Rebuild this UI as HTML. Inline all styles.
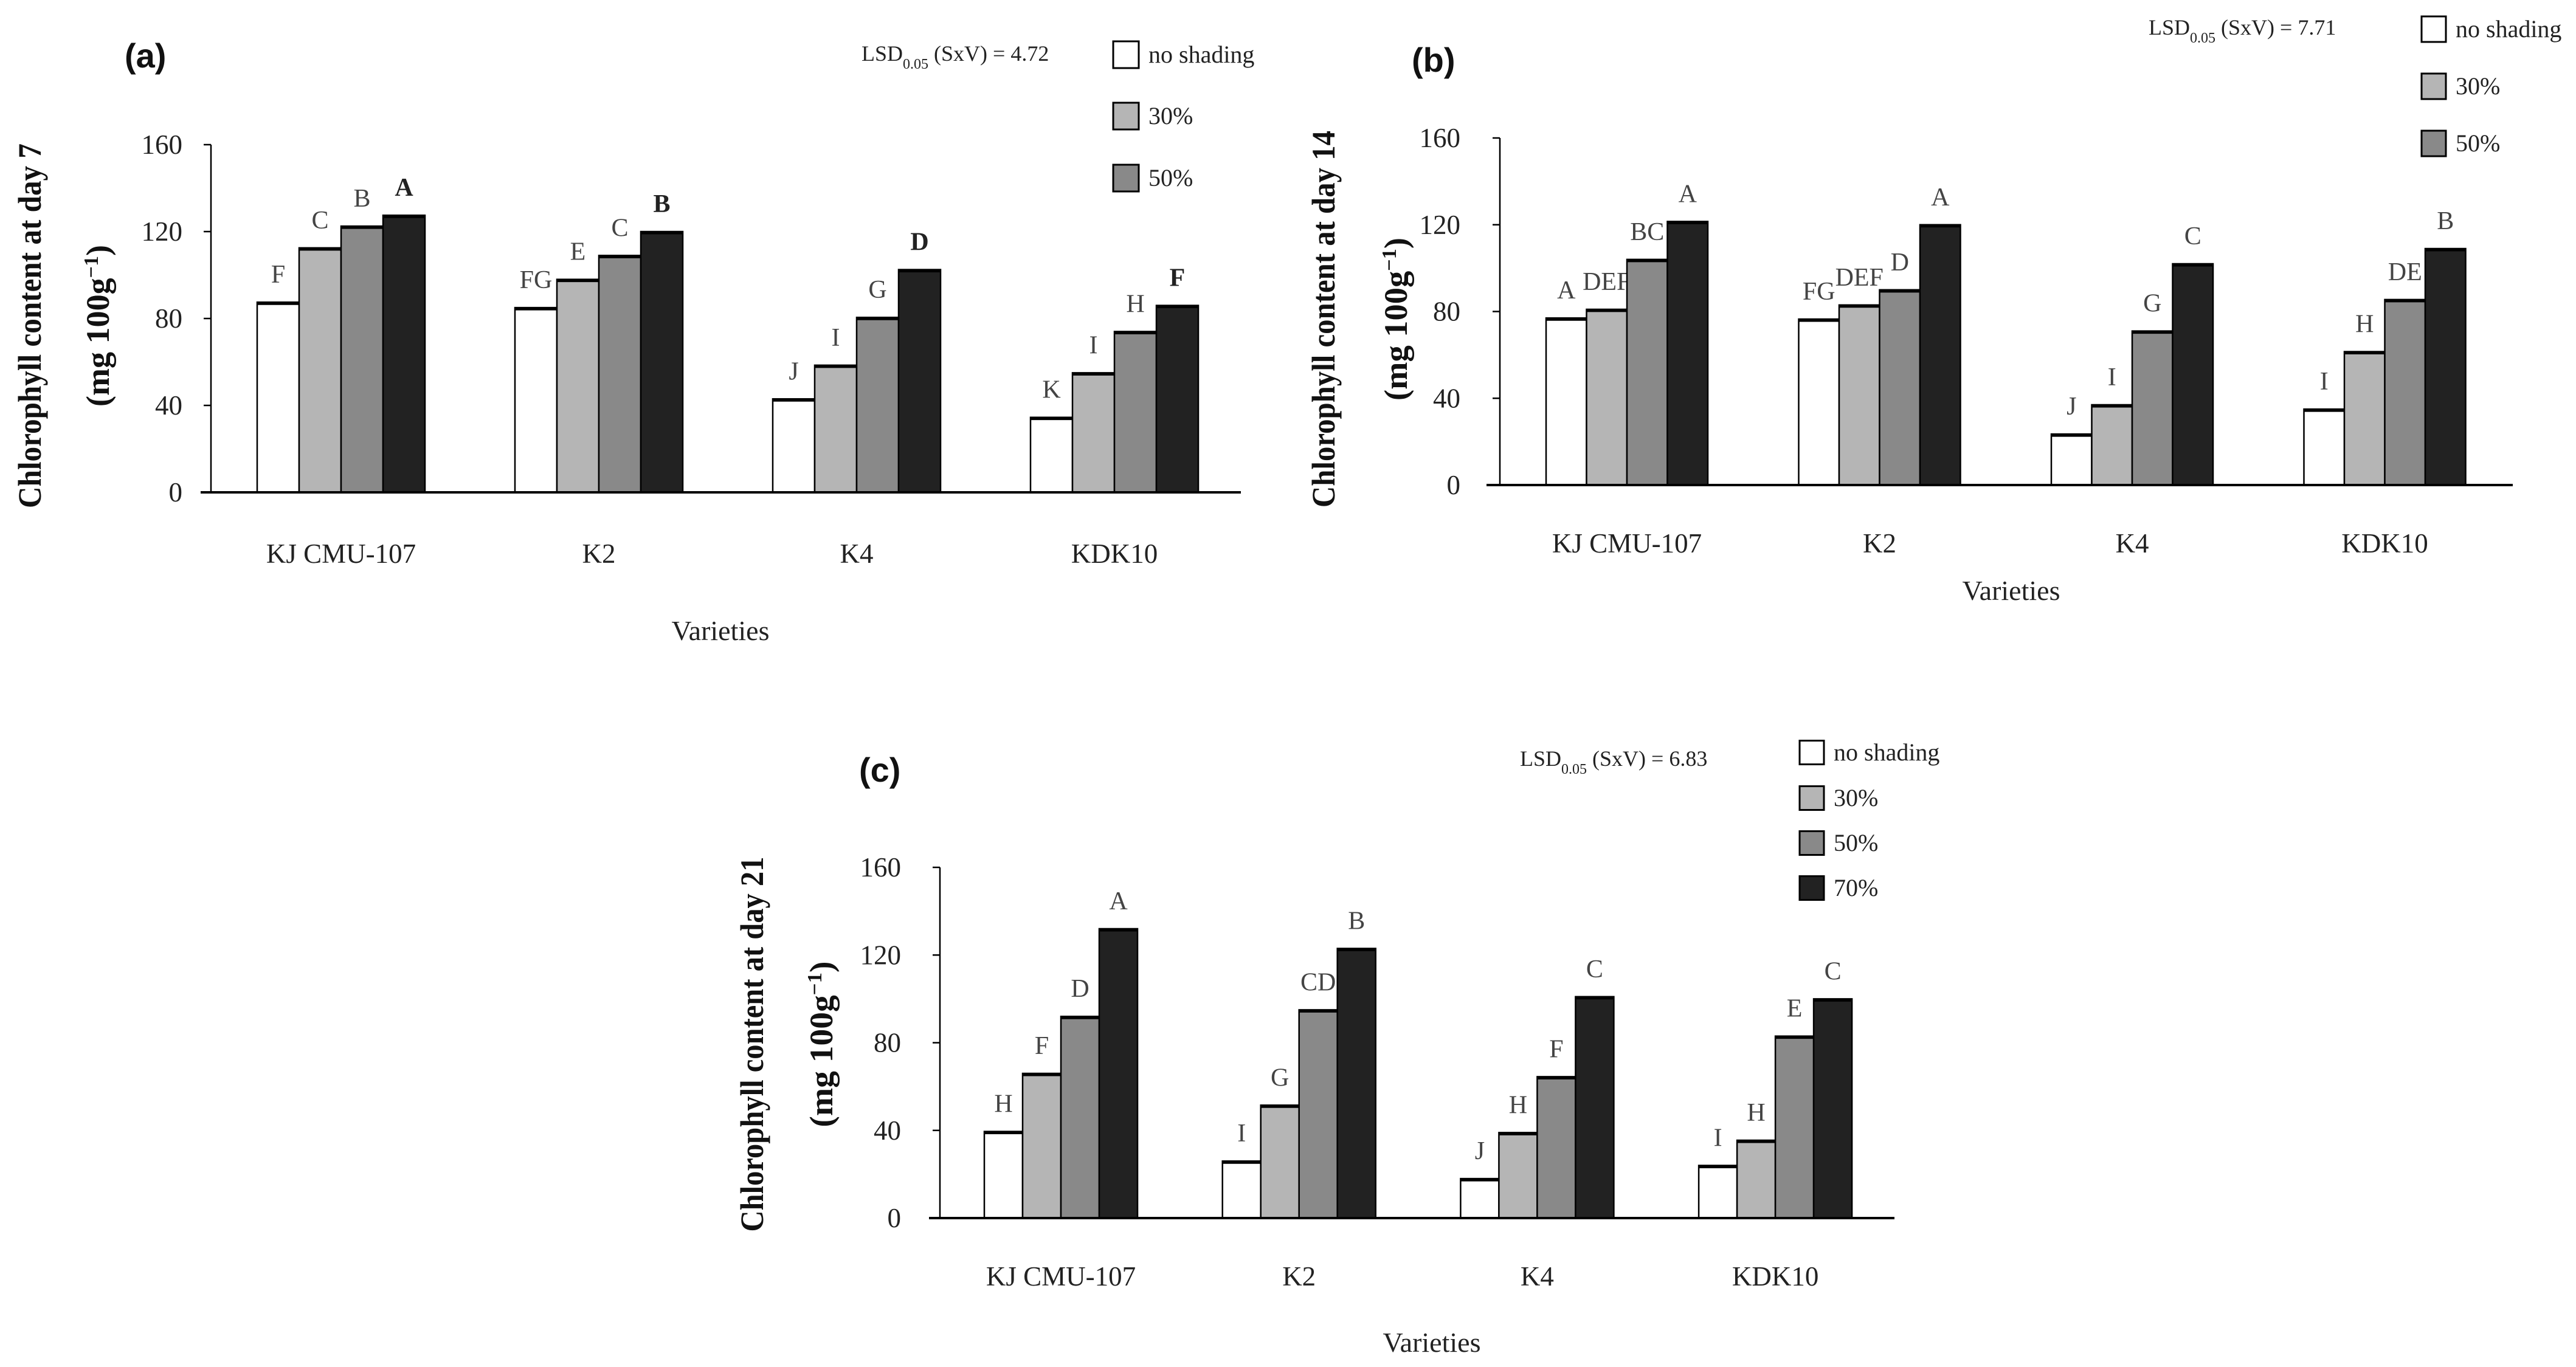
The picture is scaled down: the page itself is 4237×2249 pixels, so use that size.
<!DOCTYPE html>
<html><head><meta charset="utf-8">
<style>
html,body{margin:0;padding:0;background:#fff;}
svg{display:block;}
</style></head>
<body>
<svg id="chart" width="4237" height="2249" viewBox="0 0 4237 2249" xmlns="http://www.w3.org/2000/svg"></svg>
<script>
const categories = ["KJ CMU-107", "K2", "K4", "KDK10"];
const yTicks = [0, 40, 80, 120, 160];
const seriesNames3 = ["no shading", "30%", "50%"];
const seriesNames4 = ["no shading", "30%", "50%", "70%"];
const day7Values = [[87.5, 85, 43, 34.5], [112.5, 98, 58.5, 55], [122.5, 109, 80.5, 74], [127.5, 120, 102.5, 86]];
const day7Letters = [["F", "FG", "J", "K"], ["C", "E", "I", "I"], ["B", "C", "G", "H"], ["A", "B", "D", "F"]];
const day14Values = [[77, 76.5, 23.5, 35], [81, 83, 37, 61.5], [104, 90, 71, 85.5], [121.5, 120, 102, 109]];
const day14Letters = [["A", "FG", "J", "I"], ["DEF", "DEF", "I", "H"], ["BC", "D", "G", "DE"], ["A", "A", "C", "B"]];
const day21Values = [[39.5, 26, 18, 24], [66, 51.5, 39, 35.5], [92, 95, 64.5, 83], [132, 123, 101, 100]];
const day21Letters = [["H", "I", "J", "I"], ["F", "G", "H", "H"], ["D", "CD", "F", "E"], ["A", "B", "C", "C"]];

const fills = ["#ffffff", "#b5b5b5", "#898989", "#222222"];
const svg = document.getElementById('chart');
const NS = "http://www.w3.org/2000/svg";
function mk(tag, attrs, parent) {
  const e = document.createElementNS(NS, tag);
  for (const k in attrs) e.setAttribute(k, attrs[k]);
  (parent || svg).appendChild(e);
  return e;
}
const SERIF = 'Liberation Serif, serif';

function panel(p) {
  const g = mk('g', {});
  
  
  const y = v => p.y0 - (v / 160) * (p.y0 - p.y160);
  const cx = i => p.c0 + p.step * i;
  const ya = mk('line', {x1: p.ax, x2: p.ax, y1: p.y160, y2: p.y0, stroke: '#000', 'stroke-width': 2.5}, g);
  
  
  yTicks.forEach(t => {
    const tk = mk('line', {x1: p.ax - 12, x2: p.ax, y1: y(t), y2: y(t), stroke: '#000', 'stroke-width': 2.5}, g);
    
    
    const tl = mk('text', {x: p.tickR, y: y(t) + 15, 'text-anchor': 'end', 'font-family': SERIF, 'font-size': 45, fill: '#222'}, g);
    tl.textContent = t;
    
    
  });
  const nS = p.values.length;
  p.values.forEach((ser, s) => {
    ser.forEach((v, i) => {
      const left = cx(i) - (nS / 2) * p.bw + s * p.bw;
      const r = mk('rect', {x: left, y: y(v), width: p.bw, height: p.y0 - y(v), fill: fills[s], stroke: '#000', 'stroke-width': 2.5}, g);
      
      
      const tl = mk('line', {x1: left, x2: left + p.bw, y1: y(v) + 2, y2: y(v) + 2, stroke: '#000', 'stroke-width': 5}, g);
      
      
      const lt = mk('text', {x: left + p.bw / 2, y: y(v) - 32, 'text-anchor': 'middle', 'font-family': SERIF, 'font-size': 42, fill: '#444'}, g);
      if (p.boldLast && s === nS - 1) { lt.setAttribute('font-weight', 'bold'); lt.setAttribute('fill', '#222'); }
      lt.textContent = p.letters[s][i];
      
      
    });
  });
  const xa = mk('line', {x1: p.xl0, x2: p.xl1, y1: p.y0, y2: p.y0, stroke: '#000', 'stroke-width': 4}, g);
  
  
  categories.forEach((c, i) => {
    const t = mk('text', {x: cx(i), y: p.catY + 15, 'text-anchor': 'middle', 'font-family': SERIF, 'font-size': 45, fill: '#222'}, g);
    t.textContent = c;
    
    
  });
  const xt = mk('text', {x: p.varX, y: p.varY + 15, 'text-anchor': 'middle', 'font-family': SERIF, 'font-size': 46, fill: '#222'}, g);
  xt.textContent = 'Varieties';
  
  
  const yt = mk('text', {transform: `translate(${p.tX + 18},${p.tY}) rotate(-90)`, 'text-anchor': 'middle', 'font-family': SERIF, 'font-size': 54, 'font-weight': 'bold', fill: '#111', textLength: p.tLen, lengthAdjust: 'spacingAndGlyphs'}, g);
  yt.textContent = p.title;
  
  
  const yu = mk('text', {transform: `translate(${p.uX + 18},${p.tY}) rotate(-90)`, 'text-anchor': 'middle', 'font-family': SERIF, 'font-size': 54, 'font-weight': 'bold', fill: '#111', textLength: p.uLen, lengthAdjust: 'spacingAndGlyphs'}, g);
  
  
  yu.appendChild(document.createTextNode('(mg 100g'));
  const sup = mk('tspan', {'baseline-shift': 'super', 'font-size': 34}, yu);
  sup.textContent = '\u22121';
  const cl = mk('tspan', {}, yu);
  cl.textContent = ')';
  const pl = mk('text', {x: p.lblX, y: p.lblY + 20, 'font-family': 'Liberation Sans, sans-serif', 'font-size': 56, 'font-weight': 'bold', fill: '#111'}, g);
  pl.textContent = p.label;
  
  
  const ls = mk('text', {x: p.lsdX, y: p.lsdY + 12, 'font-family': SERIF, 'font-size': 36, fill: '#222'}, g);
  
  
  ls.appendChild(document.createTextNode('LSD'));
  const sb = mk('tspan', {'baseline-shift': 'sub', 'font-size': 24}, ls);
  sb.textContent = '0.05';
  const rest = mk('tspan', {}, ls);
  rest.textContent = ' (SxV) = ' + p.lsd;
  p.legendNames.forEach((n, s) => {
    const ly = p.legY[s];
    const b = mk('rect', {x: p.legX, y: ly - p.legH / 2, width: p.legW, height: p.legH, fill: fills[s], stroke: '#000', 'stroke-width': 3}, g);
    
    
    const t = mk('text', {x: p.legX + p.legW + 16, y: ly + 13, 'font-family': SERIF, 'font-size': 40, fill: '#222'}, g);
    t.textContent = n;
    
    
  });
}

panel({name: 'panel-a-day7', values: day7Values, letters: day7Letters, boldLast: true,
  ax: 347, y0: 810, y160: 238, xl0: 330, xl1: 2041, c0: 561, step: 424, bw: 69, tickR: 300,
  catY: 911, varX: 1185, varY: 1038, tX: 49, uX: 161, tY: 536, tLen: 600, uLen: 266, title: 'Chlorophyll content at day 7',
  label: '(a)', lblX: 205, lblY: 91, lsd: '4.72', lsdX: 1417, lsdY: 88,
  legendNames: seriesNames3, legX: 1831, legW: 42, legH: 44, legY: [90, 191, 293]});
panel({name: 'panel-b-day14', values: day14Values, letters: day14Letters, boldLast: false,
  ax: 2467, y0: 798, y160: 227, xl0: 2445, xl1: 4133, c0: 2676, step: 415.5, bw: 66.5, tickR: 2402,
  catY: 894, varX: 3308, varY: 972, tX: 2177, uX: 2296, tY: 525, tLen: 620, uLen: 268, title: 'Chlorophyll content at day 14',
  label: '(b)', lblX: 2322, lblY: 98, lsd: '7.71', lsdX: 3534, lsdY: 45,
  legendNames: seriesNames3, legX: 3983, legW: 40, legH: 42, legY: [48, 142, 236]});
panel({name: 'panel-c-day21', values: day21Values, letters: day21Letters, boldLast: false,
  ax: 1546, y0: 2004, y160: 1427, xl0: 1528, xl1: 3116, c0: 1745, step: 391.7, bw: 63, tickR: 1482,
  catY: 2100, varX: 2355, varY: 2209, tX: 1237, uX: 1351, tY: 1718, tLen: 617, uLen: 273, title: 'Chlorophyll content at day 21',
  label: '(c)', lblX: 1413, lblY: 1266, lsd: '6.83', lsdX: 2500, lsdY: 1248,
  legendNames: seriesNames4, legX: 2960, legW: 40, legH: 39, legY: [1238, 1313, 1387, 1461]});
</script>
</body></html>
